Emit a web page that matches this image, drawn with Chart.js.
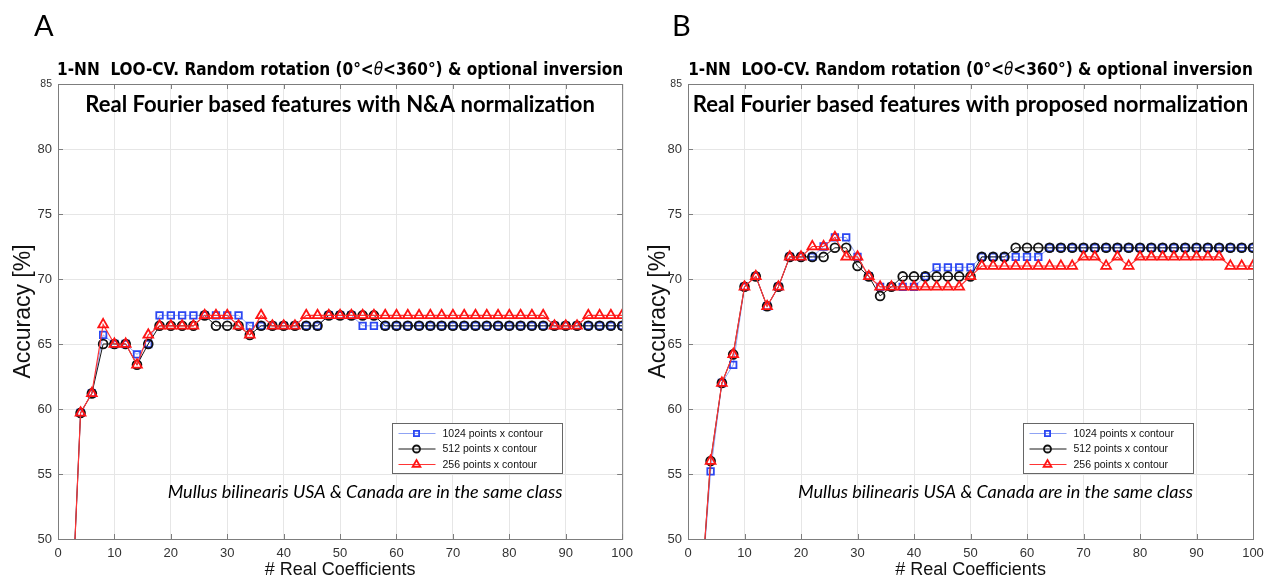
<!DOCTYPE html>
<html lang="en">
<head>
<meta charset="UTF-8" />
<title>1-NN LOO-CV accuracy vs. number of real coefficients</title>
<script src="https://cdn.jsdelivr.net/npm/chart.js"></script>
<style>
  body { margin: 0; background: #fff; }
  .panel { position: absolute; top: 0; height: 585px; }
  #panelA { left: 0; width: 640px; }
  #panelB { left: 640px; width: 634px; }
</style>
</head>
<body>
<div class="panel" id="panelA"><canvas id="chartA"></canvas></div>
<div class="panel" id="panelB"><canvas id="chartB"></canvas></div>

<script>
  // number of real coefficients (x)
  const coeffs = [2, 4, 6, 8, 10, 12, 14, 16, 18, 20, 22, 24, 26, 28, 30, 32, 34, 36, 38, 40,
    42, 44, 46, 48, 50, 52, 54, 56, 58, 60, 62, 64, 66, 68, 70, 72, 74, 76, 78, 80,
    82, 84, 86, 88, 90, 92, 94, 96, 98, 100];

  const seriesNames = ['1024 points x contour', '512 points x contour', '256 points x contour'];

  // A: N&A normalization
  const accA1024 = [40.0, 59.7, 61.2, 65.7, 65.0, 65.0, 64.2, 65.0, 67.2, 67.2,
    67.2, 67.2, 67.2, 67.2, 67.2, 67.2, 66.4, 66.4, 66.4, 66.4,
    66.4, 66.4, 66.4, 67.2, 67.2, 67.2, 66.4, 66.4, 66.4, 66.4,
    66.4, 66.4, 66.4, 66.4, 66.4, 66.4, 66.4, 66.4, 66.4, 66.4,
    66.4, 66.4, 66.4, 66.4, 66.4, 66.4, 66.4, 66.4, 66.4, 66.4];
  const accA512 = [40.0, 59.7, 61.2, 65.0, 65.0, 65.0, 63.4, 65.0, 66.4, 66.4,
    66.4, 66.4, 67.2, 66.4, 66.4, 66.4, 65.7, 66.4, 66.4, 66.4,
    66.4, 66.4, 66.4, 67.2, 67.2, 67.2, 67.2, 67.2, 66.4, 66.4,
    66.4, 66.4, 66.4, 66.4, 66.4, 66.4, 66.4, 66.4, 66.4, 66.4,
    66.4, 66.4, 66.4, 66.4, 66.4, 66.4, 66.4, 66.4, 66.4, 66.4];
  const accA256 = [40.0, 59.7, 61.2, 66.5, 65.0, 65.0, 63.4, 65.7, 66.4, 66.4,
    66.4, 66.4, 67.2, 67.2, 67.2, 66.4, 65.7, 67.2, 66.4, 66.4,
    66.4, 67.2, 67.2, 67.2, 67.2, 67.2, 67.2, 67.2, 67.2, 67.2,
    67.2, 67.2, 67.2, 67.2, 67.2, 67.2, 67.2, 67.2, 67.2, 67.2,
    67.2, 67.2, 67.2, 66.4, 66.4, 66.4, 67.2, 67.2, 67.2, 67.2];

  // B: proposed normalization
  const accB1024 = [44.0, 55.2, 62.0, 63.4, 69.4, 70.2, 67.9, 69.4, 71.7, 71.7,
    71.7, 72.5, 73.2, 73.2, 71.7, 70.2, 69.4, 69.4, 69.4, 69.4,
    70.2, 70.9, 70.9, 70.9, 70.9, 71.7, 71.7, 71.7, 71.7, 71.7,
    71.7, 72.4, 72.4, 72.4, 72.4, 72.4, 72.4, 72.4, 72.4, 72.4,
    72.4, 72.4, 72.4, 72.4, 72.4, 72.4, 72.4, 72.4, 72.4, 72.4];
  const accB512 = [44.0, 56.0, 62.0, 64.2, 69.4, 70.2, 67.9, 69.4, 71.7, 71.7,
    71.7, 71.7, 72.4, 72.4, 71.0, 70.2, 68.7, 69.4, 70.2, 70.2,
    70.2, 70.2, 70.2, 70.2, 70.2, 71.7, 71.7, 71.7, 72.4, 72.4,
    72.4, 72.4, 72.4, 72.4, 72.4, 72.4, 72.4, 72.4, 72.4, 72.4,
    72.4, 72.4, 72.4, 72.4, 72.4, 72.4, 72.4, 72.4, 72.4, 72.4];
  const accB256 = [44.0, 56.0, 62.0, 64.2, 69.4, 70.2, 67.9, 69.4, 71.7, 71.7,
    72.5, 72.5, 73.2, 71.7, 71.7, 70.2, 69.4, 69.4, 69.4, 69.4,
    69.4, 69.4, 69.4, 69.4, 70.2, 71.0, 71.0, 71.0, 71.0, 71.0,
    71.0, 71.0, 71.0, 71.0, 71.7, 71.7, 71.0, 71.7, 71.0, 71.7,
    71.7, 71.7, 71.7, 71.7, 71.7, 71.7, 71.7, 71.0, 71.0, 71.0];

  const topTitle = ['1-NN  LOO-CV. Random rotation (0°<', 'θ', '<360°) & optional inversion'];
  const noteText = 'Mullus bilinearis USA & Canada are in the same class';

  const tickFont = '"Liberation Sans", Arial, sans-serif';
  const narrowFont = '"Liberation Sans Narrow", "DejaVu Sans Condensed", "Liberation Sans", sans-serif';
  const calFont = 'Lato, "Open Sans", sans-serif';

  // font size that makes text span the wanted width
  function fitSize(ctx, text, style, family, width) {
    ctx.font = style + ' 20px ' + family;
    return 20 * width / ctx.measureText(text).width;
  }

  // box, inward ticks, titles, note and legend drawn over the plot
  const decor = {
    id: 'decor',
    afterDraw(chart, args, o) {
      const ctx = chart.ctx;
      const a = chart.chartArea;
      const xs = chart.scales.x, ys = chart.scales.y;
      const cx = (a.left + a.right) / 2;
      ctx.save();

      // frame + ticks
      ctx.strokeStyle = '#7d7d7d';
      ctx.lineWidth = 1;
      ctx.strokeRect(a.left + 0.5, a.top + 0.5, a.right - a.left, a.bottom - a.top);
      ctx.beginPath();
      xs.ticks.forEach(t => {
        const p = Math.round(xs.getPixelForValue(t.value)) + 0.5;
        ctx.moveTo(p, a.bottom); ctx.lineTo(p, a.bottom - 5);
        ctx.moveTo(p, a.top); ctx.lineTo(p, a.top + 5);
      });
      ys.ticks.forEach(t => {
        const p = Math.round(ys.getPixelForValue(t.value)) + 0.5;
        ctx.moveTo(a.left, p); ctx.lineTo(a.left + 5, p);
        ctx.moveTo(a.right, p); ctx.lineTo(a.right - 5, p);
      });
      ctx.stroke();

      ctx.fillStyle = '#000';
      ctx.textBaseline = 'alphabetic';

      // panel letter
      ctx.font = '29px ' + calFont;
      ctx.textAlign = 'left';
      ctx.fillText(o.letter, o.letterX, 36);

      // top title with italic theta
      const full = topTitle.join('');
      const ts = fitSize(ctx, full, 'bold', narrowFont, o.titleW);
      const fonts = ['bold ' + ts + 'px ' + narrowFont, 'italic ' + ts + 'px ' + narrowFont, 'bold ' + ts + 'px ' + narrowFont];
      let w = 0;
      topTitle.forEach((s, i) => { ctx.font = fonts[i]; w += ctx.measureText(s).width; });
      let x = cx - w / 2;
      topTitle.forEach((s, i) => { ctx.font = fonts[i]; ctx.fillText(s, x, 75); x += ctx.measureText(s).width; });

      // inner title
      ctx.textAlign = 'center';
      const is = fitSize(ctx, o.inner, 'bold', calFont, o.innerW);
      ctx.font = 'bold ' + is + 'px ' + calFont;
      ctx.fillText(o.inner, cx, 112);

      // note
      const ns = fitSize(ctx, noteText, 'italic', calFont, 395);
      ctx.font = 'italic ' + ns + 'px ' + calFont;
      ctx.fillText(noteText, cx + 25, 498);

      // legend
      const bx = Math.round(a.right - 230) + 0.5, by = 423.5;
      ctx.fillStyle = '#fff';
      ctx.fillRect(bx, by, 170, 50);
      ctx.strokeStyle = '#666';
      ctx.strokeRect(bx, by, 170, 50);
      ctx.font = '10.5px ' + tickFont;
      ctx.textAlign = 'left';
      ctx.textBaseline = 'middle';
      chart.data.datasets.forEach((d, i) => {
        const ry = by + 10 + i * 15.5;
        ctx.strokeStyle = d.borderColor;
        ctx.lineWidth = 1;
        ctx.beginPath(); ctx.moveTo(bx + 6, ry); ctx.lineTo(bx + 43, ry); ctx.stroke();
        ctx.strokeStyle = d.pointBorderColor;
        ctx.fillStyle = 'rgba(0,0,0,0)';
        ctx.lineWidth = d.pointBorderWidth;
        Chart.helpers.drawPoint(ctx, { pointStyle: d.pointStyle, radius: d.pointRadius * 0.8, rotation: 0, borderWidth: d.pointBorderWidth }, bx + 24, ry);
        ctx.fillStyle = '#111';
        ctx.fillText(d.label, bx + 50, ry + 0.5);
      });
      ctx.restore();
    }
  };

  function makeChart(id, data1024, data512, data256, o) {
    return new Chart(document.getElementById(id), {
      type: 'line',
      data: {
        labels: coeffs,
        datasets: [
          { label: seriesNames[0], data: data1024, order: 2, borderColor: '#8fa3f4', borderWidth: 1,
            pointStyle: 'rect', pointRadius: 4.6, pointBorderColor: '#2b47f2', pointBorderWidth: 1.8,
            pointBackgroundColor: 'rgba(0,0,0,0)' },
          { label: seriesNames[1], data: data512, order: 1, borderColor: '#1a1a1a', borderWidth: 1,
            pointStyle: 'circle', pointRadius: 4.4, pointBorderColor: '#111', pointBorderWidth: 1.8,
            pointBackgroundColor: 'rgba(0,0,0,0)' },
          { label: seriesNames[2], data: data256, order: 0, borderColor: '#ff3535', borderWidth: 1.2,
            pointStyle: 'triangle', pointRadius: 5.6, pointBorderColor: '#ff1414', pointBorderWidth: 1.8,
            pointBackgroundColor: 'rgba(0,0,0,0)' }
        ]
      },
      options: {
        responsive: true,
        maintainAspectRatio: false,
        animation: false,
        layout: { padding: { top: 84, left: o.padL, right: o.padR, bottom: 0 } },
        plugins: {
          legend: { display: false },
          tooltip: { enabled: false },
          decor: o
        },
        scales: {
          x: {
            type: 'linear', min: 0, max: 100,
            ticks: { stepSize: 10, padding: 7, color: '#333', font: { family: tickFont, size: 13 } },
            grid: { color: '#e6e6e6', drawTicks: false },
            border: { display: false },
            title: { display: true, text: '# Real Coefficients', color: '#111',
              font: { family: tickFont, size: 18 }, padding: { top: 0, bottom: 4 } },
            afterFit: s => { s.height = 46; }
          },
          y: {
            min: 50, max: 85,
            ticks: { stepSize: 5, padding: 6, color: '#333',
              font: c => ({ family: tickFont, size: c.tick && c.tick.value === 85 ? 10.5 : 13 }) },
            grid: { color: '#e6e6e6', drawTicks: false },
            border: { display: false },
            title: { display: true, text: 'Accuracy [%]', color: '#111',
              font: { family: tickFont, size: 23 }, padding: { top: o.yTitlePad, bottom: 0 } },
            afterFit: s => { s.width = o.yW; }
          }
        }
      },
      plugins: [decor]
    });
  }

  makeChart('chartA', accA1024, accA512, accA256, {
    letter: 'A', letterX: 34, padL: 8, padR: 13, yW: 50, yTitlePad: 2,
    inner: 'Real Fourier based features with N&A normalization', innerW: 510, titleW: 568
  });
  makeChart('chartB', accB1024, accB512, accB256, {
    letter: 'B', letterX: 32, padL: 0, padR: 21, yW: 48, yTitlePad: 5,
    inner: 'Real Fourier based features with proposed normalization', innerW: 556, titleW: 566
  });
</script>
</body>
</html>
